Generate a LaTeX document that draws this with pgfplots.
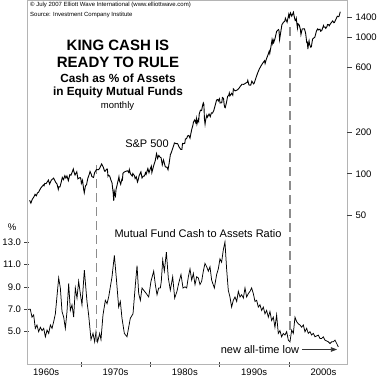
\documentclass[border=0pt]{standalone}
\usepackage{pgfplots}
\pgfplotsset{compat=1.18}
\usepackage{fontspec}
\setmainfont{Liberation Sans}
\usetikzlibrary{arrows.meta}
\definecolor{framegray}{HTML}{B4B4B4}
\definecolor{dashgray}{HTML}{8C8C8C}
\begin{document}
\begin{tikzpicture}
\path[use as bounding box] (-27pt,-20pt) rectangle (350pt,364pt);
% ---------- Bottom axis: cash ratio ----------
\begin{axis}[
  at={(0pt,0pt)}, anchor=south west,
  scale only axis, width=320pt, height=364pt,
  xmin=1962.24, xmax=2008.39,
  ymin=2.12, ymax=34.59,
  axis line style={framegray, line width=0.7pt},
  xtick={1970,1980,1990,2000}, xticklabels={},
  extra x ticks={1965,1975,1985,1995,2005},
  extra x tick labels={1960s,1970s,1980s,1990s,2000s},
  extra x tick style={major tick length=0pt},
  xtick pos=bottom, ytick pos=left,
  ytick={5,7,9,11,13}, yticklabels={5.0,7.0,9.0,11.0,13.0},
  x tick style={black!75, line width=0.6pt},
  y tick style={black!75, line width=0.6pt},
  tick align=center,
  major tick length=5pt,
  tick label style={font=\fontsize{9.5}{10}\selectfont},
  /pgf/number format/assume math mode=true,
  xticklabel style={yshift=-1pt},
  clip=false,
]
\addplot[black, line width=0.75pt] coordinates {
(1962.48,7.0) (1962.72,7.0) (1962.96,6.3) (1963.20,6.5) (1963.44,5.3) (1963.68,5.6) (1963.92,5.0)
(1964.17,5.4) (1964.41,5.1) (1964.65,5.3) (1964.89,4.55) (1965.13,5.15) (1965.37,4.85) (1965.61,5.6)
(1965.85,5.3) (1966.09,5.9) (1966.33,6.6) (1966.81,9.8) (1967.05,8.9) (1967.29,6.8) (1967.53,6.3)
(1967.77,5.3) (1968.01,6.8) (1968.25,9.3) (1968.49,6.9) (1968.73,7.4) (1968.97,6.3) (1969.21,8.9)
(1969.45,8.0) (1969.69,9.5) (1969.93,8.4) (1970.17,7.4) (1970.51,10.5) (1970.89,7.7) (1971.13,6.5)
(1971.47,4.3) (1971.76,4.85) (1972.00,4.1) (1972.19,5.0) (1972.43,4.1) (1972.72,4.85) (1972.91,4.3)
(1973.20,6.5) (1973.54,7.8) (1973.78,7.5) (1974.02,8.1) (1974.50,9.9) (1974.84,11.8) (1975.12,9.8)
(1975.46,7.2) (1975.70,7.7) (1975.94,6.2) (1976.28,4.85) (1976.66,4.55) (1977.14,6.2) (1977.53,6.6)
(1977.87,9.2) (1978.11,10.9) (1978.35,8.4) (1978.59,7.8) (1978.83,8.9) (1979.07,8.7) (1979.45,8.4)
(1979.79,8.1) (1980.12,9.5) (1980.51,10.4) (1980.75,9.2) (1980.99,8.3) (1981.23,8.9) (1981.47,8.9)
(1981.61,9.5) (1981.81,11.4) (1982.05,10.4) (1982.34,12.1) (1982.62,9.8) (1982.91,8.7) (1983.25,9.9)
(1983.54,8.0) (1983.87,8.6) (1984.11,9.3) (1984.45,10.1) (1984.74,8.9)
(1985.03,9.0) (1985.27,8.9) (1985.51,9.9) (1985.75,10.6) (1985.99,9.6) (1986.23,10.2) (1986.47,9.2)
(1986.71,9.9) (1986.95,9.8) (1987.19,9.2) (1987.43,9.5) (1987.67,10.4) (1987.91,11.1) (1988.15,10.8)
(1988.39,10.4) (1988.63,10.8) (1988.87,9.6) (1989.26,8.9) (1989.59,10.1) (1989.83,10.6) (1990.07,11.5)
(1990.31,11.2) (1990.55,12.3) (1990.79,13.0) (1991.03,10.6) (1991.27,8.7) (1991.51,8.1) (1991.75,7.2)
(1991.99,7.8) (1992.24,8.1) (1992.48,7.7) (1992.72,8.6) (1992.96,8.1) (1993.20,8.3) (1993.44,8.0)
(1993.68,8.9) (1993.92,8.1) (1994.16,8.4) (1994.40,8.6) (1994.64,8.9) (1994.88,8.4) (1995.12,7.7)
(1995.36,7.8) (1995.60,7.2) (1995.84,7.4) (1996.08,6.9) (1996.32,7.2) (1996.56,6.6) (1996.80,6.9)
(1997.04,6.3) (1997.28,6.8) (1997.52,6.0) (1997.76,6.3) (1998.00,5.4) (1998.24,6.5) (1998.48,4.85)
(1998.72,5.1) (1998.96,4.55) (1999.21,4.85) (1999.45,4.7) (1999.69,5.0) (1999.93,4.25) (2000.17,4.1)
(2000.41,5.15) (2000.65,4.85) (2000.89,6.3) (2001.13,5.9) (2001.37,5.7) (2001.61,5.6) (2001.85,5.4)
(2002.09,5.6) (2002.33,5.0) (2002.57,5.3) (2002.81,4.85) (2003.05,5.0) (2003.29,4.7) (2003.53,4.85)
(2003.77,4.55) (2004.25,4.7) (2004.49,4.4) (2004.73,4.4) (2004.97,4.55) (2005.21,4.25) (2005.69,4.1)
(2005.94,3.95) (2006.18,4.1) (2006.42,4.1) (2006.66,4.25) (2006.90,3.95) (2007.14,3.65)
};
\draw[dashgray, line width=1.3pt, dash pattern=on 9pt off 5pt] (axis cs:1972.29,19.87) -- (axis cs:1972.29,3.99);
\draw[dashgray, line width=1.3pt, dash pattern=on 9pt off 5pt] (axis cs:2000.17,32.17) -- (axis cs:2000.17,4.6);
\end{axis}
% ---------- Top axis: S&P 500 (log) ----------
\begin{axis}[
  at={(0pt,0pt)}, anchor=south west,
  scale only axis, width=320pt, height=364pt,
  xmin=1962.24, xmax=2008.39,
  ymode=log, ymin=4.07, ymax=1864,
  axis line style={draw=none},
  xtick=\empty,
  ytick={50,100,200,600,1000,1400}, yticklabels={50,100,200,600,1000,1400},
  ytick pos=right, yticklabel pos=right,
  y tick style={black!75, line width=0.6pt},
  tick align=outside, major tick length=5pt,
  tick label style={font=\fontsize{9.5}{10}\selectfont},
  /pgf/number format/assume math mode=true,
  clip=false,
]
\addplot[black, line width=0.9pt] coordinates {
(1962.62,64) (1962.80,61) (1963.00,65) (1963.25,68) (1963.40,70.8) (1963.58,69) (1963.75,72.5)
(1963.90,73.2) (1964.00,75) (1964.25,79) (1964.50,81.7) (1964.60,83) (1964.70,81.8) (1964.80,85)
(1965.00,84.75) (1965.33,90) (1965.50,84.1) (1965.75,90) (1966.08,92.9) (1966.25,89.2) (1966.42,86)
(1966.58,84) (1966.75,77) (1966.83,80.2) (1967.00,80.3) (1967.17,86.8) (1967.33,94) (1967.50,90.6)
(1967.70,97) (1967.85,93) (1968.00,96.5) (1968.20,89) (1968.42,98.7) (1968.58,97.7) (1968.75,102.7)
(1968.92,108.4) (1969.00,103.9) (1969.17,98) (1969.42,103.5) (1969.58,91.8) (1969.75,93.1) (1969.92,93.8)
(1970.00,92.1) (1970.08,85) (1970.25,89.6) (1970.42,76.6) (1970.50,72.7) (1970.67,81.5) (1970.83,83.3)
(1971.00,92.2) (1971.25,100.3) (1971.33,103.9) (1971.50,99.7) (1971.58,95.6) (1971.83,94) (1972.00,102.1)
(1972.25,107.2) (1972.50,107.1) (1972.58,107.4) (1972.75,110.6) (1973.00,118) (1973.08,116) (1973.25,111.5)
(1973.42,104.8) (1973.50,104.3) (1973.75,108.4) (1973.83,108.3) (1973.92,95.96) (1974.00,97.6) (1974.17,96.2)
(1974.33,90.3) (1974.50,86) (1974.58,79.3) (1974.67,72.2) (1974.75,63.5) (1974.83,73.9) (1974.92,69.97)
(1975.00,68.6) (1975.08,76.98) (1975.25,83.4) (1975.42,91.2) (1975.50,95.2) (1975.58,88.8) (1975.75,83.9)
(1975.92,91.2) (1976.00,90.2) (1976.08,100.9) (1976.25,102.8) (1976.50,104.3) (1976.75,105.2) (1976.92,102.1)
(1977.00,107.5) (1977.17,99.8) (1977.42,96.1) (1977.50,100.5) (1977.75,96.5) (1977.83,92.3) (1978.00,95.1)
(1978.17,87) (1978.25,89.2) (1978.42,97.3) (1978.67,103.3) (1978.83,93.2) (1979.00,96.1) (1979.17,96.3)
(1979.33,101.8) (1979.42,99.1) (1979.67,109.3) (1979.83,101.8) (1980.00,107.9) (1980.17,113.7) (1980.25,102.1)
(1980.50,114.2) (1980.75,125.5) (1980.92,140.5) (1981.00,135.8) (1981.08,129.6) (1981.25,136) (1981.42,132.6)
(1981.58,130.9) (1981.75,116.2) (1981.92,126.4) (1982.00,122.6) (1982.17,113.1) (1982.25,112) (1982.42,111.9)
(1982.58,107.1) (1982.75,120.4) (1982.92,138.5) (1983.00,140.6) (1983.25,153) (1983.42,162.4) (1983.50,168.1)
(1983.75,166.1) (1983.92,166.4) (1984.00,164.9) (1984.17,157.1) (1984.42,150.6) (1984.58,150.7) (1984.67,166.7)
(1984.83,166.1) (1985.00,167.2) (1985.08,179.6) (1985.25,180.7) (1985.42,189.6) (1985.58,190.9) (1985.75,182.1)
(1985.92,202.2) (1986.00,211.3) (1986.17,226.9) (1986.25,238.9) (1986.42,247.4) (1986.58,236.1) (1986.67,252.9)
(1986.75,231.3) (1986.92,249.2) (1987.00,242.2) (1987.08,274.1) (1987.25,291.7) (1987.42,290.1) (1987.58,318.7)
(1987.67,329.8) (1987.75,321.8) (1987.83,251.8) (1987.92,230.3) (1988.00,247.1) (1988.17,267.8) (1988.25,258.9)
(1988.50,273.5) (1988.67,261.5) (1988.83,278.97) (1989.00,277.7) (1989.17,288.9) (1989.33,309.6) (1989.58,346.1)
(1989.75,349.2) (1989.83,340.4) (1990.00,353.4) (1990.08,329.1) (1990.33,330.8) (1990.42,361.2) (1990.58,356.2)
(1990.67,322.6) (1990.75,306.1) (1990.83,304) (1991.00,330.2) (1991.17,367.1) (1991.33,375.3) (1991.42,389.8)
(1991.50,371.2) (1991.75,387.9) (1991.92,375.2) (1992.00,417.1) (1992.25,403.7) (1992.50,408.1) (1992.75,417.8)
(1993.00,435.7) (1993.25,451.7) (1993.50,450.5) (1993.75,458.9) (1994.00,466.5) (1994.08,481.6) (1994.25,445.8)
(1994.50,444.3) (1994.67,475.5) (1994.92,453.7) (1995.00,459.3) (1995.25,500.7) (1995.50,544.8) (1995.75,584.4)
(1996.00,615.9) (1996.25,645.5) (1996.50,670.6) (1996.58,639.9) (1996.75,687.3) (1997.00,740.7) (1997.17,786.2)
(1997.25,757.1) (1997.42,848.3) (1997.58,954.3) (1997.67,899.5) (1997.75,947.3) (1997.83,914.6) (1998.00,970.4)
(1998.25,1101.8) (1998.50,1133.8) (1998.58,1120.7) (1998.67,957.3) (1998.75,1017) (1999.00,1229.2) (1999.25,1286.4)
(1999.42,1301.8) (1999.50,1372.7) (1999.75,1282.7) (2000.00,1469.3) (2000.08,1394.5) (2000.25,1498.6) (2000.42,1420.6)
(2000.67,1517.7) (2000.75,1436.5) (2000.92,1315.2) (2001.00,1320.3) (2001.08,1366) (2001.17,1239.9) (2001.25,1160.3)
(2001.33,1249.5) (2001.50,1224.4) (2001.67,1133.6) (2001.75,1040.9) (2001.92,1139.5) (2002.00,1148.1) (2002.25,1147.4)
(2002.42,1067.1) (2002.50,989.8) (2002.58,911.6) (2002.67,916.1) (2002.75,815.3) (2002.83,885.8) (2002.92,936.3)
(2003.00,879.8) (2003.17,841.2) (2003.25,848.2) (2003.42,963.6) (2003.50,974.5) (2003.75,996) (2004.00,1111.9)
(2004.17,1144.9) (2004.25,1126.2) (2004.50,1140.8) (2004.58,1101.7) (2004.75,1114.6) (2005.00,1211.9) (2005.08,1181.3)
(2005.25,1180.6) (2005.33,1156.9) (2005.50,1191.3) (2005.58,1234.2) (2005.75,1228.8) (2005.83,1207) (2006.00,1248.3)
(2006.33,1310.6) (2006.50,1270.2) (2006.58,1276.7) (2006.75,1335.9) (2007.00,1418.3) (2007.17,1406.8) (2007.25,1420.9)
(2007.42,1530.6)
};
\end{axis}
% ---------- Texts ----------
\node[anchor=west, inner sep=0pt, font=\fontsize{6}{7}\selectfont] at (3pt,359pt) {\textcopyright{} July 2007 Elliott Wave International (www.elliottwave.com)};
\node[anchor=west, inner sep=0pt, font=\fontsize{6}{7}\selectfont] at (3pt,349pt) {Source: Investment Company Institute};
\node[inner sep=0pt, font=\bfseries\fontsize{15}{16}\selectfont] at (91pt,319pt) {KING CASH IS};
\node[inner sep=0pt, font=\bfseries\fontsize{15}{16}\selectfont] at (91pt,301.7pt) {READY TO RULE};
\node[inner sep=0pt, font=\bfseries\fontsize{11.8}{13}\selectfont] at (91pt,285.7pt) {Cash as \% of Assets};
\node[inner sep=0pt, font=\bfseries\fontsize{11.8}{13}\selectfont] at (91pt,271.7pt) {in Equity Mutual Funds};
\node[inner sep=0pt, font=\fontsize{9.5}{10}\selectfont] at (90.5pt,258pt) {monthly};
\node[inner sep=0pt, font=\fontsize{11}{12}\selectfont] at (120pt,220pt) {S\&P 500};
\node[inner sep=0pt, font=\fontsize{11}{12}\selectfont] at (171pt,130pt) {Mutual Fund Cash to Assets Ratio};
\node[inner sep=0pt, font=\fontsize{9.5}{10}\selectfont] at (-15pt,137pt) {\%};
\node[inner sep=0pt, font=\fontsize{11}{12}\selectfont] at (233pt,14pt) {new all-time low};
\draw[black!80, line width=0.6pt, -{Triangle[length=6pt, width=4.5pt]}] (275pt,14.5pt) -- (310pt,14.5pt);
\end{tikzpicture}
\end{document}
